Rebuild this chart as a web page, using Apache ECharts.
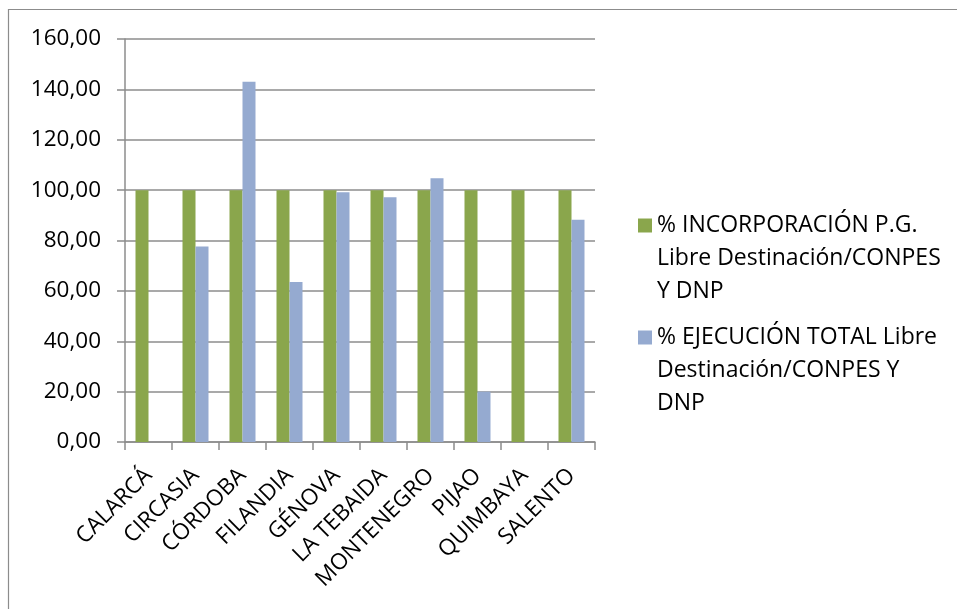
<!DOCTYPE html>
<html>
<head>
<meta charset="utf-8">
<script src="https://cdn.jsdelivr.net/npm/echarts@6/dist/echarts.min.js"></script>
<style>
  html, body { margin: 0; padding: 0; background: #fff; }
  #chart { width: 957px; height: 609px; }
</style>
</head>
<body>
<div id="chart"></div>
<script>
var municipios = ['CALARCÁ','CIRCASIA','CÓRDOBA','FILANDIA','GÉNOVA','LA TEBAIDA','MONTENEGRO','PIJAO','QUIMBAYA','SALENTO'];
var incorporacion = [100,100,100,100,100,100,100,100,100,100];
var ejecucion = [null,77.6,143.0,63.5,99.2,97.2,104.7,20.0,null,88.2];
var nombreIncorp = '% INCORPORACIÓN P.G.\nLibre Destinación/CONPES\nY DNP';
var nombreEjec = '% EJECUCIÓN TOTAL Libre\nDestinación/CONPES Y\nDNP';

var FONT = '"Open Sans", sans-serif';
var GRIS = '#8c8c8c';

var chart = echarts.init(document.getElementById('chart'), null, {renderer: 'canvas'});

// two empty lines on top so the square sits beside the first line
function legendFmt(name) {
    return '\n\n' + name;
}

var legendText = {
    fontFamily: FONT,
    fontSize: 23,
    color: '#000',
    lineHeight: 33
};

var option = {
    animation: false,
    backgroundColor: '#fff',
    color: ['#8aa64c', '#95aad0'],
    graphic: [{
        type: 'rect',
        shape: {x: 8.5, y: 9.5, width: 1000, height: 700},
        style: {fill: 'none', stroke: GRIS, lineWidth: 1.2},
        silent: true
    }],
    legend: [{
        orient: 'vertical',
        left: 638,
        top: 143,
        padding: 0,
        itemWidth: 14,
        itemHeight: 14,
        icon: 'rect',
        formatter: legendFmt,
        textStyle: legendText,
        data: [nombreIncorp]
    }, {
        orient: 'vertical',
        left: 638,
        top: 255,
        padding: 0,
        itemWidth: 14,
        itemHeight: 14,
        icon: 'rect',
        formatter: legendFmt,
        textStyle: legendText,
        data: [nombreEjec]
    }],
    grid: {
        left: 125,
        right: 362,
        top: 39,
        bottom: 167
    },
    xAxis: {
        type: 'category',
        data: municipios,
        axisLine: {lineStyle: {color: GRIS, width: 1.5}},
        axisTick: {show: true, length: 8, lineStyle: {color: GRIS, width: 1.5}},
        axisLabel: {
            rotate: 45,
            margin: 30,
            interval: 0,
            fontFamily: FONT,
            fontSize: 22.5,
            color: '#000'
        }
    },
    yAxis: {
        type: 'value',
        min: 0,
        max: 160,
        interval: 20,
        axisLine: {show: true, lineStyle: {color: GRIS, width: 1.5}},
        axisTick: {show: true, length: 8, lineStyle: {color: GRIS, width: 1.5}},
        splitLine: {lineStyle: {color: GRIS, width: 1.5}},
        axisLabel: {
            margin: 24,
            fontFamily: FONT,
            fontSize: 22.5,
            color: '#000',
            formatter: function (v) {
                return v.toFixed(2).replace('.', ',');
            }
        }
    },
    series: [{
        name: nombreIncorp,
        type: 'bar',
        barWidth: 13,
        barGap: '0%',
        data: incorporacion
    }, {
        name: nombreEjec,
        type: 'bar',
        barWidth: 13,
        barGap: '0%',
        data: ejecucion
    }]
};

chart.setOption(option);
</script>
</body>
</html>
